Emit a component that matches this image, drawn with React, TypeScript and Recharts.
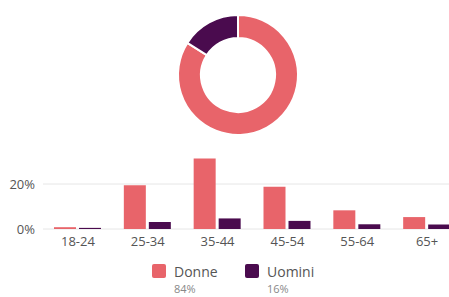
import React from "react";
import { PieChart, Pie, Cell, BarChart, Bar, XAxis, YAxis, CartesianGrid } from "recharts";

const categories = ["18-24", "25-34", "35-44", "45-54", "55-64", "65+"];
const donneValues = [0.8, 19.5, 31.3, 18.8, 8.3, 5.3];
const uominiValues = [0.5, 3.1, 4.7, 3.6, 2.1, 2.0];
const seriesNames = ["Donne", "Uomini"];
const totals = [84, 16];
const yTicks = [0, 20];

const COLORS = ["#E8646A", "#4A0B4E"];
const FONT = "'Segoe UI', 'Open Sans', 'Noto Sans', sans-serif";

const barData = categories.map((c, i) => ({ name: c, Donne: donneValues[i], Uomini: uominiValues[i] }));
const pieData = seriesNames.map((n, i) => ({ name: n, value: totals[i] }));

export default function App() {
  return (
    <div style={{ position: "fixed", left: 0, top: 0, width: 449, height: 297, overflow: "hidden", background: "#fff", fontFamily: FONT }}>
      <div style={{ position: "absolute", left: 0, top: 0 }}>
        <PieChart width={449} height={140}>
          <Pie
            data={pieData}
            dataKey="value"
            cx={233}
            cy={70}
            innerRadius={37}
            outerRadius={60}
            startAngle={90}
            endAngle={-270}
            stroke="#fff"
            strokeWidth={2}
            isAnimationActive={false}
          >
            {pieData.map((d, i) => (
              <Cell key={d.name} fill={COLORS[i]} />
            ))}
          </Pie>
        </PieChart>
      </div>
      <div style={{ position: "absolute", left: 0, top: 130 }}>
        <BarChart width={462} height={129} data={barData} margin={{ top: 9, right: 0, bottom: 0, left: 0 }} barSize={22} barGap={3}>
          <CartesianGrid vertical={false} stroke="#e6e6e6" horizontalValues={yTicks} />
          <XAxis dataKey="name" axisLine={false} tickLine={false} height={30} tick={{ fill: "#555", fontSize: 13, fontFamily: FONT }} />
          <YAxis domain={[0, 40]} ticks={yTicks} axisLine={false} tickLine={false} width={43} tickFormatter={(v: number) => `${v}%`} tick={{ fill: "#555", fontSize: 13, fontFamily: FONT }} />
          <Bar dataKey="Donne" fill={COLORS[0]} isAnimationActive={false} />
          <Bar dataKey="Uomini" fill={COLORS[1]} isAnimationActive={false} />
        </BarChart>
      </div>
      {seriesNames.map((n, i) => (
        <div key={n} style={{ position: "absolute", left: i === 0 ? 152 : 245, top: 264 }}>
          <div style={{ position: "absolute", left: 0, top: 0, width: 14, height: 14, background: COLORS[i], borderRadius: 2 }} />
          <div style={{ position: "absolute", left: 22, top: -2, fontSize: 14, color: "#555", whiteSpace: "nowrap" }}>{n}</div>
          <div style={{ position: "absolute", left: 22, top: 17, fontSize: 11, color: "#888", whiteSpace: "nowrap" }}>{totals[i]}%</div>
        </div>
      ))}
    </div>
  );
}
